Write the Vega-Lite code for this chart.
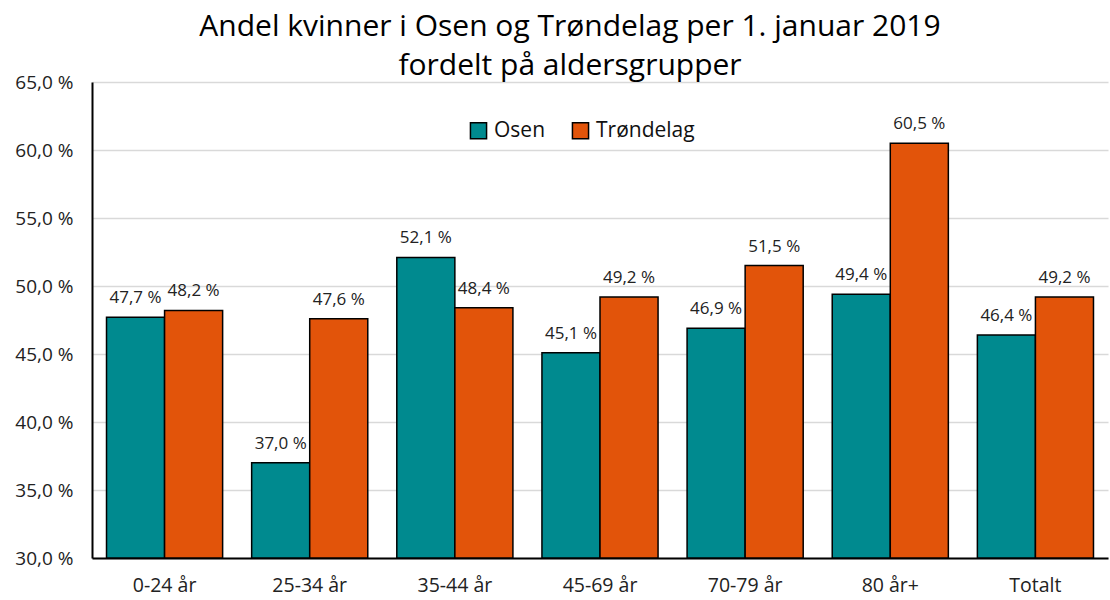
{
  "$schema": "https://vega.github.io/schema/vega-lite/v6.json",
  "autosize": {"type": "none"},
  "padding": {"left": 92, "top": 82, "right": 2, "bottom": 42},
  "width": 1016,
  "height": 476,
  "title": {
    "text": ["Andel kvinner i Osen og Trøndelag per 1. januar 2019", "fordelt på aldersgrupper"],
    "font": "Open Sans",
    "fontSize": 30,
    "fontWeight": "normal",
    "color": "#000000",
    "anchor": "middle",
    "dx": -30,
    "dy": 16,
    "offset": 8,
    "lineHeight": 39
  },
  "data": {
    "values": [
      {"gruppe": "0-24 år", "region": "Osen", "andel": 47.7},
      {"gruppe": "0-24 år", "region": "Trøndelag", "andel": 48.2},
      {"gruppe": "25-34 år", "region": "Osen", "andel": 37.0},
      {"gruppe": "25-34 år", "region": "Trøndelag", "andel": 47.6},
      {"gruppe": "35-44 år", "region": "Osen", "andel": 52.1},
      {"gruppe": "35-44 år", "region": "Trøndelag", "andel": 48.4},
      {"gruppe": "45-69 år", "region": "Osen", "andel": 45.1},
      {"gruppe": "45-69 år", "region": "Trøndelag", "andel": 49.2},
      {"gruppe": "70-79 år", "region": "Osen", "andel": 46.9},
      {"gruppe": "70-79 år", "region": "Trøndelag", "andel": 51.5},
      {"gruppe": "80 år+", "region": "Osen", "andel": 49.4},
      {"gruppe": "80 år+", "region": "Trøndelag", "andel": 60.5},
      {"gruppe": "Totalt", "region": "Osen", "andel": 46.4},
      {"gruppe": "Totalt", "region": "Trøndelag", "andel": 49.2}
    ]
  },
  "transform": [
    {"calculate": "replace(format(datum.andel, '.1f'), '.', ',') + ' %'", "as": "etikett"}
  ],
  "encoding": {
    "x": {
      "field": "gruppe",
      "type": "nominal",
      "sort": null,
      "scale": {"paddingInner": 0.2, "paddingOuter": 0.1},
      "axis": {
        "title": null,
        "labelAngle": 0,
        "labelFont": "Open Sans",
        "labelFontSize": 19.5,
        "labelColor": "#222222",
        "labelPadding": 18,
        "ticks": false,
        "domainColor": "#000000",
        "domainWidth": 2,
        "grid": false
      }
    },
    "xOffset": {"field": "region", "type": "nominal", "sort": ["Osen", "Trøndelag"], "scale": {"paddingInner": 0, "paddingOuter": 0}},
    "y": {
      "field": "andel",
      "type": "quantitative",
      "scale": {"domain": [30, 65], "zero": false, "nice": false},
      "axis": {
        "title": null,
        "values": [30, 35, 40, 45, 50, 55, 60, 65],
        "labelExpr": "replace(format(datum.value, '.1f'), '.', ',') + ' %'",
        "labelFont": "Open Sans",
        "labelFontSize": 19,
        "labelColor": "#222222",
        "labelPadding": 19,
        "ticks": false,
        "domainColor": "#000000",
        "domainWidth": 2,
        "gridColor": "#d9d9d9",
        "gridWidth": 1.5
      }
    }
  },
  "layer": [
    {
      "mark": {"type": "bar", "stroke": "#000000", "strokeWidth": 1.5},
      "encoding": {
        "y2": {"datum": 30},
        "color": {
          "field": "region",
          "type": "nominal",
          "scale": {"domain": ["Osen", "Trøndelag"], "range": ["#008A8F", "#E2540A"]},
          "legend": {
            "title": null,
            "orient": "none",
            "direction": "horizontal",
            "legendX": 376,
            "legendY": 38,
            "symbolType": "square",
            "symbolSize": 260,
            "symbolStrokeColor": "#000000",
            "symbolStrokeWidth": 1.5,
            "labelFont": "Open Sans",
            "labelFontSize": 21,
            "labelColor": "#111111",
            "columnPadding": 23,
            "labelOffset": 5
          }
        }
      }
    },
    {
      "mark": {"type": "text", "baseline": "bottom", "dy": -10, "font": "Open Sans", "fontSize": 17, "color": "#222222"},
      "encoding": {"text": {"field": "etikett", "type": "nominal"}}
    }
  ],
  "config": {"view": {"stroke": null}, "background": "#ffffff"}
}
